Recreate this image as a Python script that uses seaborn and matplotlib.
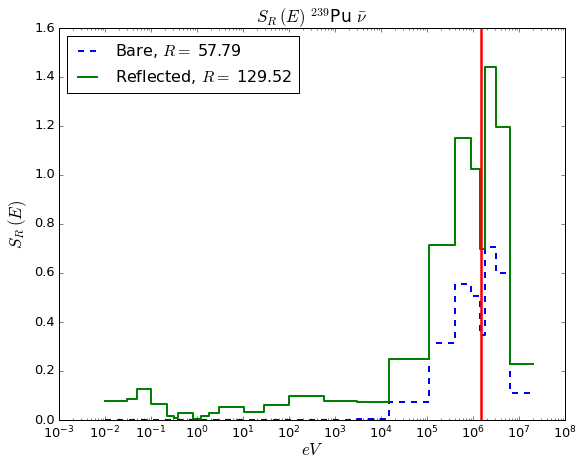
import numpy as np
import pandas as pd
import matplotlib
matplotlib.use("Agg")
import matplotlib.pyplot as plt
import seaborn as sns

plt.style.use("classic")

# Group boundaries (eV)
edges = [1e-2, 3e-2, 5e-2, 0.1, 0.225, 0.32, 0.39, 0.8, 1.25, 1.8, 3.0,
         10.5, 29.0, 100.0, 590.0, 3000.0, 1.5e4, 1.1e5, 4.1e5, 9e5,
         1.4e6, 1.8e6, 3.1e6, 6.3e6, 2e7]
bare = [0.001, 0.001, 0.001, 0.001, 0.001, 0.001, 0.001, 0.001, 0.001,
        0.001, 0.001, 0.001, 0.001, 0.001, 0.002, 0.005, 0.075, 0.313,
        0.556, 0.507, 0.347, 0.708, 0.601, 0.111]
reflected = [0.078, 0.086, 0.127, 0.065, 0.018, 0.008, 0.027, 0.004, 0.018,
             0.027, 0.053, 0.034, 0.061, 0.099, 0.078, 0.073, 0.249, 0.714,
             1.152, 1.024, 0.700, 1.440, 1.197, 0.229]
bare_label = r"Bare, $R=$ 57.79"
refl_label = r"Reflected, $R=$ 129.52"
mean_energy = 1.5e6

df_bare = pd.DataFrame({"E": edges, "S": bare + [bare[-1]]})
df_refl = pd.DataFrame({"E": edges, "S": reflected + [reflected[-1]]})

fig = plt.figure(figsize=(8, 460 / 72), dpi=72, facecolor="white")
ax = fig.add_axes([59 / 576, 1 - 420 / 460, (565 - 59) / 576, (420 - 28) / 460])
ax.set_xscale("log")

sns.lineplot(data=df_bare, x="E", y="S", ax=ax, drawstyle="steps-post",
             color="blue", linestyle="--", linewidth=2, label=bare_label,
             estimator=None, sort=False)
sns.lineplot(data=df_refl, x="E", y="S", ax=ax, drawstyle="steps-post",
             color="green", linewidth=2, label=refl_label,
             estimator=None, sort=False)
ax.axvline(mean_energy, color="red", linewidth=2.5)

ax.set_xlim(1e-3, 1e8)
ax.set_ylim(0, 1.6)
ax.set_yticks(np.arange(0, 1.61, 0.2))
ax.set_xticks([10.0 ** k for k in range(-3, 9)])
ax.tick_params(axis="both", which="major", labelsize=13)
ax.tick_params(axis="x", which="major", pad=5)
ax.set_xlabel(r"$eV$", fontsize=17, labelpad=-1)
ax.set_ylabel(r"$S_R\,(E)$", fontsize=17)
ax.set_title(r"$S_R\,(E)$ $^{239}$Pu $\bar{\nu}$", fontsize=17)
ax.legend(loc="upper left", fontsize=16, frameon=True, handlelength=1.8)

fig.savefig("out.png", dpi=72, facecolor="white")
